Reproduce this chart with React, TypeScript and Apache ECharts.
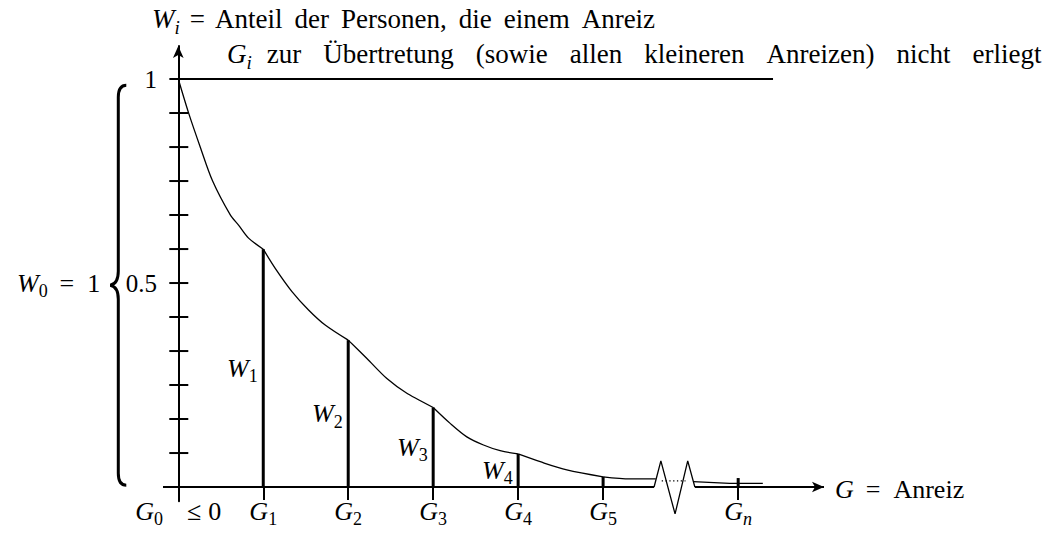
import { useEffect, useRef } from 'react';
import * as echarts from 'echarts';

const FONT = 'Liberation Serif';

// Incentive levels G_i on the horizontal axis and their labels
const gPositions = [0, 1, 2, 3, 4, 5, 6.59];
const gLabels = [
  '{it|G}{sub|0}{rel|≤}{rm|0}',
  '{it|G}{sub|1}',
  '{it|G}{sub|2}',
  '{it|G}{sub|3}',
  '{it|G}{sub|4}',
  '{it|G}{sub|5}',
  '{it|G}{subi|n}',
];

// Share W_i of people who resist incentive G_i (vertical strokes)
const wPositions = [1, 2, 3, 4, 5, 6.59];
const wValues = [0.583, 0.36, 0.195, 0.081, 0.025, 0.022];
const wLabels = ['{it|W}{sub|1}', '{it|W}{sub|2}', '{it|W}{sub|3}', '{it|W}{sub|4}', '', ''];

// Vertical axis ticks (twelfths) and labelled values
const yTicks = [0.0833, 0.1667, 0.25, 0.3333, 0.4167, 0.5, 0.5833, 0.6667, 0.75, 0.8333, 0.9167];
const yLabelValues = [0.5, 1];

// Decreasing share curve up to the axis break
const curveLeft = [
  [0, 1], [0.121, 0.917], [0.259, 0.833], [0.404, 0.75], [0.612, 0.667],
  [0.709, 0.642], [0.827, 0.61], [1, 0.583],
  [1.141, 0.536], [1.338, 0.479], [1.533, 0.434], [1.729, 0.397], [2, 0.36],
  [2.22, 0.315], [2.455, 0.266], [2.69, 0.23], [3, 0.195],
  [3.2, 0.156], [3.396, 0.123], [3.592, 0.103], [3.788, 0.089], [4, 0.081],
  [4.26, 0.062], [4.573, 0.042], [5, 0.025], [5.318, 0.02], [5.62, 0.02],
];
// ... and its continuation after the break
const curveRight = [[6.06, 0.013], [6.49, 0.009], [6.88, 0.009]];
const dottedBridge = [[5.69, 0.015], [5.97, 0.015]];

// Horizontal axis with its break
const axisLeft = [[-0.18, 0], [5.6, 0]];
const axisBreak = [[5.6, 0], [5.68, 0.064], [5.847, -0.066], [5.996, 0.064], [6.08, 0]];
const axisArrow = [[6.08, 0], [7.6, 0]];
const topLine = [[-0.105, 1], [7.0, 1]];

// Left brace spanning the whole share range
const braceSpan = [0.985, 0.005];

// Heading lines
const headWords1 = ['Anteil', 'der', 'Personen,', 'die', 'einem', 'Anreiz'];
const headWords2 = ['zur', 'Übertretung', '(sowie', 'allen', 'kleineren', 'Anreizen)', 'nicht', 'erliegt'];

echarts.graphic.registerShape(
  'brace',
  echarts.graphic.extendPath(
    'M8 0 C3 0 0 4 0 12 L0 186 C0 194 -3 199 -8 200 C-3 201 0 206 0 214 L0 388 C0 396 3 400 8 400',
    {}
  )
);

const base = { fontFamily: FONT, fontSize: 26, lineHeight: 34, color: '#000' };
const head = { fontFamily: FONT, fontSize: 27, lineHeight: 35, color: '#000' };
const rich: any = {
  it: { ...base, fontStyle: 'italic' },
  rm: { ...base },
  eq: { ...base, padding: [0, 13, 0, 12] },
  rel: { ...base, padding: [0, 7, 0, 24] },
  sub: { fontFamily: FONT, fontSize: 18, lineHeight: 18, verticalAlign: 'bottom', color: '#000' },
  subi: { fontFamily: FONT, fontStyle: 'italic', fontSize: 18, lineHeight: 18, verticalAlign: 'bottom', color: '#000' },
  hit: { ...head, fontStyle: 'italic' },
  hrm: { ...head },
  heq: { ...head, padding: [0, 10, 0, 10] },
  hw1: { ...head, padding: [0, 0, 0, 12] },
  hw2a: { ...head, padding: [0, 0, 0, 15] },
  hw2: { ...head, padding: [0, 0, 0, 22] },
  hsubi: { fontFamily: FONT, fontStyle: 'italic', fontSize: 19, lineHeight: 19, verticalAlign: 'bottom', color: '#000' },
};

const black = '#000';

// Split the curve at the G_i so every section keeps its own corner
function curveSections() {
  const out: number[][][] = [];
  for (let k = 0; k < gPositions.length - 1; k++) {
    const lo = gPositions[k];
    const hi = k === 5 ? Infinity : gPositions[k + 1];
    const seg = curveLeft.filter((p) => p[0] >= lo && p[0] <= hi);
    if (seg.length > 1) out.push(seg);
  }
  return out;
}

export default function App() {
  const ref = useRef<HTMLDivElement>(null);

  useEffect(() => {
    if (!ref.current) return;
    const chart = echarts.init(ref.current, null, { renderer: 'svg' });

    const curveSeries = curveSections().map((seg) => ({
      type: 'line',
      silent: true,
      data: seg,
      symbol: 'none',
      smooth: 0.3,
      lineStyle: { color: black, width: 1.3 },
    }));

    const option: any = {
      animation: false,
      backgroundColor: '#fff',
      grid: { left: 163, right: 231, top: 46, bottom: 33.7, outerBoundsMode: 'none', containLabel: false },
      xAxis: {
        type: 'value',
        min: -0.18,
        max: 7.6,
        splitLine: { show: false },
        axisLine: { show: true, onZero: true, lineStyle: { color: 'rgba(0,0,0,0)', width: 2 } },
        axisTick: { show: true, customValues: gPositions, length: 13, lineStyle: { color: black, width: 2 } },
        axisLabel: {
          show: true,
          customValues: gPositions,
          margin: -7,
          formatter: (v: number) => {
            const i = gPositions.findIndex((g) => Math.abs(g - v) < 1e-6);
            return i >= 0 ? gLabels[i] : '';
          },
          rich,
        },
        name: '{it|G}{eq|=}{rm|Anreiz}',
        nameLocation: 'end',
        nameGap: 11,
        nameTextStyle: { rich, verticalAlign: 'middle', padding: [4, 0, 0, 0] },
      },
      yAxis: {
        type: 'value',
        min: -0.035,
        max: 1.081,
        splitLine: { show: false },
        axisLine: {
          show: true,
          onZero: true,
          symbol: ['none', 'arrow'],
          symbolSize: [8, 12],
          lineStyle: { color: black, width: 2 },
        },
        axisTick: { show: false },
        axisLabel: {
          show: true,
          customValues: yLabelValues,
          margin: 6,
          formatter: (v: number) => (Math.abs(v - 1) < 1e-6 ? '1' : '0.5'),
          fontFamily: FONT,
          fontSize: 25,
          color: black,
        },
      },
      series: [
        {
          type: 'custom',
          silent: true,
          data: yTicks.map((v) => [0, v]),
          renderItem: (_params: any, api: any) => {
            const p = api.coord([0, api.value(1)]);
            return {
              type: 'line',
              shape: { x1: p[0] - 9, y1: p[1], x2: p[0] + 10, y2: p[1] },
              style: { stroke: black, lineWidth: 2 },
            };
          },
        },
        {
          type: 'line',
          silent: true,
          data: topLine,
          symbol: 'none',
          lineStyle: { color: black, width: 2 },
        },
        {
          type: 'line',
          silent: true,
          data: axisLeft,
          symbol: 'none',
          lineStyle: { color: black, width: 2 },
          markLine: {
            silent: true,
            symbol: ['none', 'arrow'],
            symbolSize: [8, 12],
            label: { show: false },
            lineStyle: { color: black, width: 2, type: 'solid' },
            data: [[{ coord: axisArrow[0] }, { coord: axisArrow[1] }]],
          },
        },
        {
          type: 'line',
          silent: true,
          clip: false,
          data: axisBreak,
          symbol: 'none',
          lineStyle: { color: black, width: 1.3 },
        },
        ...curveSeries,
        {
          type: 'line',
          silent: true,
          data: curveRight,
          symbol: 'none',
          lineStyle: { color: black, width: 1.3 },
        },
        {
          type: 'line',
          silent: true,
          data: dottedBridge,
          symbol: 'none',
          lineStyle: { color: black, width: 1.3, type: [1.3, 2.5] },
        },
        {
          type: 'bar',
          silent: true,
          barWidth: 3,
          data: wPositions.map((x, i) => [x, wValues[i]]),
          itemStyle: { color: black },
          label: {
            show: true,
            position: 'left',
            distance: 4,
            formatter: (p: any) => wLabels[p.dataIndex],
            rich,
          },
        },
      ],
    };

    chart.setOption(option);

    const axisPx = chart.convertToPixel({ gridIndex: 0 }, [0, 0]) as number[];
    const top = chart.convertToPixel({ gridIndex: 0 }, [0, braceSpan[0]]) as number[];
    const bot = chart.convertToPixel({ gridIndex: 0 }, [0, braceSpan[1]]) as number[];
    const mid = chart.convertToPixel({ gridIndex: 0 }, [0, 0.5]) as number[];
    const braceH = bot[1] - top[1];

    const line1 =
      '{hit|W}{hsubi|i}{heq|=}' + headWords1.map((w, i) => (i === 0 ? `{hrm|${w}}` : `{hw1|${w}}`)).join('');
    const line2 =
      '{hit|G}{hsubi|i}' + headWords2.map((w, i) => (i === 0 ? `{hw2a|${w}}` : `{hw2|${w}}`)).join('');

    chart.setOption({
      graphic: [
        {
          type: 'brace',
          x: axisPx[0] - 60,
          y: top[1],
          scaleY: braceH / 400,
          style: { stroke: black, lineWidth: 3, fill: 'none' },
          silent: true,
        },
        {
          type: 'text',
          x: axisPx[0] - 78,
          y: mid[1],
          silent: true,
          style: {
            text: '{it|W}{sub|0}{eq|=}{rm|1}',
            align: 'right',
            verticalAlign: 'middle',
            rich,
          },
        },
        {
          type: 'text',
          x: 152,
          y: 19,
          silent: true,
          style: { text: line1, align: 'left', verticalAlign: 'middle', rich },
        },
        {
          type: 'text',
          x: 227,
          y: 54,
          silent: true,
          style: { text: line2, align: 'left', verticalAlign: 'middle', rich },
        },
      ],
    });

    return () => chart.dispose();
  }, []);

  return (
    <div
      ref={ref}
      style={{ position: 'fixed', left: 0, top: 0, width: 1055, height: 535, background: '#fff' }}
    />
  );
}
